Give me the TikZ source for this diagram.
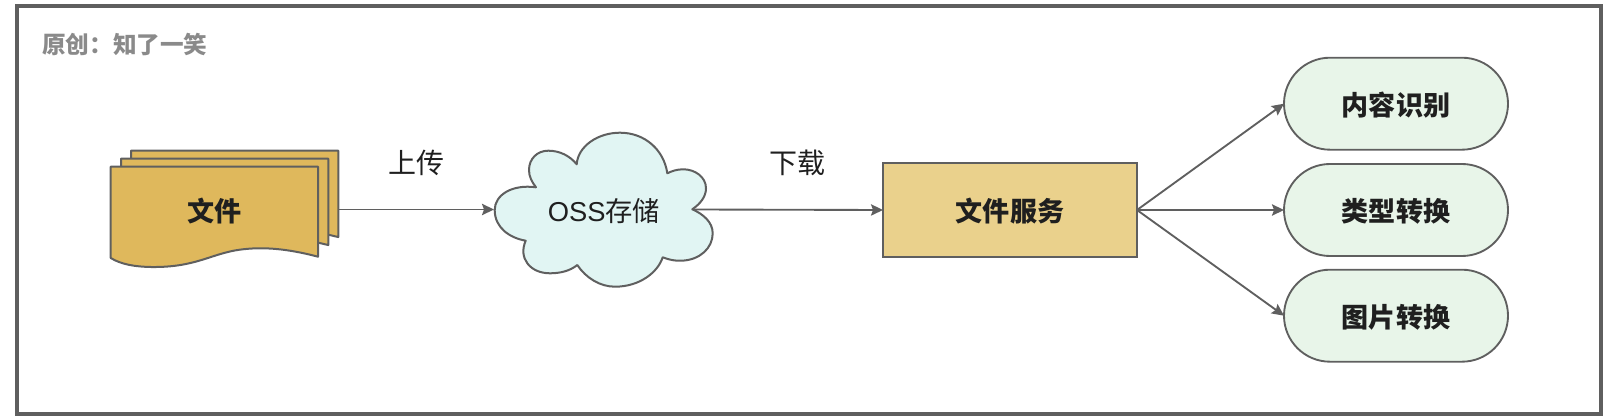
\documentclass[tikz,border=0pt]{standalone}
\usepackage{fontspec}
\setmainfont{Noto Sans CJK SC}
\newfontfamily\latinfont{Liberation Sans}
\usetikzlibrary{arrows.meta}
\definecolor{linegray}{HTML}{5F5F5F}
\definecolor{inkgray}{HTML}{1F1F1F}
\definecolor{titlegray}{HTML}{8A8A8A}
\definecolor{sheetfill}{HTML}{DFB85C}
\definecolor{cloudfill}{HTML}{E1F5F3}
\definecolor{servicefill}{HTML}{EAD18C}
\definecolor{pillfill}{HTML}{E8F5E9}
\tikzset{
  sheet/.style={draw=linegray,line width=1.5pt,fill=sheetfill,line join=round},
  plaintext/.style={text=inkgray,font=\fontsize{21}{24}\selectfont,inner sep=0pt},
  boldtext/.style={text=inkgray,font=\fontsize{20.3}{22}\bfseries\selectfont,inner sep=0pt,text height=20pt,text depth=2.4pt},
  servicebox/.style={boldtext,draw=linegray,line width=1.5pt,fill=servicefill,minimum width=190.5pt,minimum height=70pt,outer sep=0pt},
  pillbox/.style={boldtext,draw=linegray,line width=1.4pt,fill=pillfill,rounded corners=34.5pt,minimum width=168pt,minimum height=69pt,outer sep=0pt},
  link/.style={draw=linegray,line width=1.4pt,-{Stealth[length=9pt,width=8.5pt,inset=1.5pt]}}
}
\begin{document}
\begin{tikzpicture}[x=0.75pt,y=-0.75pt]
\useasboundingbox (0,0) rectangle (1622,420);
\draw[draw=linegray,line width=2.4pt] (17,6) rectangle (1601,414);
\node[anchor=west,text=titlegray,inner sep=0pt,font=\fontsize{17.7}{20}\bfseries\selectfont] (title) at (42,45) {原创：知了一笑};
\foreach \l/\t/\s in {131/150.7/.96,121/158.7/.96,110.7/166.7/1}
  \draw[sheet,shift={(\l,\t)},yscale=\s] (0,0) -- (207.3,0) -- (207.3,90)
    .. controls (175,81.5) and (151,80) .. (129,83)
    .. controls (100,87) and (85,101) .. (40,100.3)
    .. controls (25,100) and (11,98) .. (0,91.3) -- cycle;
\node[boldtext] (file) at (214.5,210) {文件};
\coordinate (fileout) at (338,209.5);
\draw[draw=linegray,line width=1.5pt,fill=cloudfill,line join=round] (536,187.3)
  .. controls (512,184) and (494.7,195) .. (494.7,210)
  .. controls (494.7,228) and (510,238) .. (525.7,240.7)
  .. controls (518,258) and (530,273.3) .. (550,273.3)
  .. controls (560,273.3) and (570,271) .. (577.3,265)
  .. controls (586,278) and (600,286.7) .. (615,286.7)
  .. controls (640,286.7) and (658,272) .. (662.7,257.3)
  .. controls (670,260) and (675,261) .. (681.7,260.7)
  .. controls (700,260) and (712.7,248) .. (712.7,233.3)
  .. controls (712.7,222) and (703,214) .. (692.3,209.3)
  .. controls (700,204) and (706,197) .. (706,188.3)
  .. controls (706,177) and (695,169.3) .. (683.3,169.3)
  .. controls (677,169.3) and (672,171) .. (667.3,173.3)
  .. controls (664,150) and (645,132.7) .. (620,132.7)
  .. controls (598,132.7) and (578,146) .. (576.7,164.3)
  .. controls (570,156) and (560,150.7) .. (548.3,150.7)
  .. controls (537,150.7) and (529,159) .. (529,170)
  .. controls (529,177) and (532,182) .. (536,187.3) -- cycle;
\node[plaintext,font=\fontsize{20.5}{24}\selectfont] (oss) at (604,211) {{\latinfont OSS}存储};
\coordinate (ossin) at (494,209.5);
\coordinate (ossout) at (693,209.5);
\node[servicebox] (service) at (1010,210) {文件服务};
\node[pillbox] (content) at (1396,103.7) {内容识别};
\node[pillbox] (type) at (1396,210) {类型转换};
\node[pillbox] (image) at (1396,315.7) {图片转换};
\node[plaintext] (upload) at (416,163) {上传};
\node[plaintext] (download) at (797,163) {下载};
\draw[link] (fileout) -- (ossin);
\draw[link] (ossout) -- (service.west);
\draw[link] (service.east) -- (content.west);
\draw[link] (service.east) -- (type.west);
\draw[link] (service.east) -- (image.west);
\end{tikzpicture}
\end{document}
